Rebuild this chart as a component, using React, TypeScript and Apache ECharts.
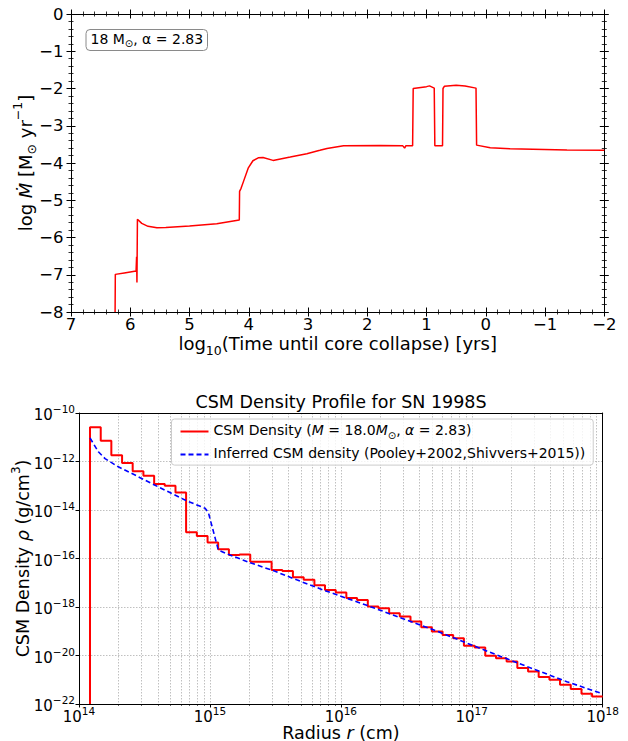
import React, { useEffect, useRef } from "react";
import * as echarts from "echarts";

const FONT = "DejaVu Sans";

// ---------- top panel: mass-loss history ----------
const mdotLogTime = [6.256, 6.252, 6.1, 5.902, 5.893, 5.887, 5.879, 5.806, 5.7, 5.55, 5.4, 5.0, 4.54, 4.16, 4.155, 4.13, 4.09, 4.01, 3.93, 3.84, 3.76, 3.59, 3.3, 3.02, 2.8, 2.68, 2.4, 1.78, 1.4, 1.37, 1.35, 1.235, 1.225, 1.0, 0.95, 0.87, 0.86, 0.73, 0.722, 0.7, 0.5, 0.35, 0.165, 0.155, -0.075, -0.41, -1.37, -2.0];
const mdotLogRate = [-8.0, -6.99, -6.95, -6.9, -6.52, -7.21, -5.51, -5.62, -5.7, -5.74, -5.73, -5.69, -5.63, -5.53, -4.76, -4.68, -4.5, -4.14, -3.94, -3.86, -3.85, -3.93, -3.84, -3.75, -3.66, -3.61, -3.54, -3.53, -3.54, -3.6, -3.54, -3.54, -2.0, -1.95, -1.93, -1.99, -3.54, -3.54, -2.0, -1.94, -1.91, -1.93, -1.99, -3.52, -3.59, -3.62, -3.65, -3.66];

// ---------- bottom panel: CSM density profile ----------
// bin edges (log10 radius, cm)
const csmEdgeLogR = [14.084, 14.166, 14.247, 14.329, 14.41, 14.492, 14.574, 14.655, 14.737, 14.818, 14.9, 14.982, 15.063, 15.145, 15.226, 15.308, 15.39, 15.471, 15.553, 15.634, 15.716, 15.798, 15.879, 15.961, 16.042, 16.124, 16.206, 16.287, 16.369, 16.45, 16.532, 16.614, 16.695, 16.777, 16.858, 16.94, 17.022, 17.103, 17.185, 17.266, 17.348, 17.43, 17.511, 17.593, 17.674, 17.756, 17.838, 17.919, 18.0];
// density in each bin (log10 g/cm^3)
const csmBinLogRho = [-10.59, -11.14, -11.74, -12.06, -12.4, -12.59, -12.93, -13.0, -13.28, -14.92, -15.07, -15.34, -15.62, -15.86, -15.83, -16.13, -16.13, -16.47, -16.52, -16.77, -16.88, -17.1, -17.3, -17.4, -17.63, -17.71, -17.98, -18.05, -18.26, -18.39, -18.6, -18.83, -19.01, -19.15, -19.29, -19.6, -19.67, -20.01, -20.11, -20.25, -20.52, -20.66, -20.89, -21.0, -21.21, -21.38, -21.58, -21.69];
// inferred profile (Pooley+2002, Shivvers+2015)
const inferredLogR = [14.084, 14.148, 14.199, 14.3, 14.428, 14.555, 14.683, 14.81, 14.963, 14.988, 15.064, 15.154, 15.306, 15.484, 15.663, 15.866, 16.198, 16.707, 17.216, 17.726, 18.0];
const inferredLogRho = [-11.03, -11.6, -11.88, -12.22, -12.56, -12.91, -13.25, -13.59, -13.93, -14.1, -15.65, -15.86, -16.17, -16.5, -16.88, -17.3, -17.93, -18.94, -20.03, -21.08, -21.58];

const radiusDecades = [14, 15, 16, 17];
const minorMultipliers = [2, 3, 4, 5, 6, 7, 8, 9];

const redName = "CSM Density (M = 18.0M⊙, α = 2.83)";
const blueName = "Inferred CSM density (Pooley+2002,Shivvers+2015))";

const minus = (v: number) => String(v).replace("-", "\u2212");

const black = { color: "#000", width: 1 };

function topX(position: string, inside: boolean, labels: boolean, named: boolean) {
  return {
    type: "value", gridIndex: 0, min: -2, max: 7, interval: 1, inverse: true, position,
    axisLine: { show: true, onZero: false, lineStyle: black },
    axisTick: { show: true, inside, length: 4.5, lineStyle: black },
    minorTick: { show: true, splitNumber: 5, length: 2.5, lineStyle: { color: "#000", width: 0.8 } },
    axisLabel: { show: labels, fontSize: 16.5, fontFamily: FONT, color: "#000", margin: 4, formatter: minus, showMinLabel: true, showMaxLabel: true },
    splitLine: { show: false },
    ...(named ? {
      name: "{t|log}{s|10}{t|(Time until core collapse) [yrs]}",
      nameLocation: "middle", nameGap: 22, nameMoveOverlap: false,
      nameTextStyle: {
        fontFamily: FONT, color: "#000", fontSize: 18,
        rich: {
          t: { fontFamily: FONT, fontSize: 18, color: "#000", verticalAlign: "top", padding: [0, 0, 5, 0] },
          s: { fontFamily: FONT, fontSize: 12.5, color: "#000", verticalAlign: "bottom" },
        },
      },
    } : {}),
  };
}

function topY(position: string, inside: boolean, labels: boolean, named: boolean) {
  return {
    type: "value", gridIndex: 0, min: -8, max: 0, interval: 1, position,
    axisLine: { show: true, onZero: false, lineStyle: black },
    axisTick: { show: true, inside, length: 4.5, lineStyle: black },
    minorTick: { show: true, splitNumber: 5, length: 2.5, lineStyle: { color: "#000", width: 0.8 } },
    axisLabel: { show: labels, fontSize: 16.5, fontFamily: FONT, color: "#000", margin: 7.5, formatter: minus, showMinLabel: true, showMaxLabel: true },
    splitLine: { show: false },
    ...(named ? {
      name: "{t|log }{i|Ṁ}{t| [M}{b|⊙}{t| yr}{p|−1}{t|]}",
      nameLocation: "middle", nameGap: 33, nameMoveOverlap: false,
      nameTextStyle: {
        fontFamily: FONT, color: "#000", fontSize: 18,
        rich: {
          t: { fontFamily: FONT, fontSize: 18, color: "#000", padding: [5, 0, 4, 0] },
          i: { fontFamily: FONT, fontSize: 18, fontStyle: "italic", color: "#000", padding: [5, 0, 4, 0] },
          b: { fontFamily: FONT, fontSize: 12.5, color: "#000", verticalAlign: "bottom" },
          p: { fontFamily: FONT, fontSize: 12.5, color: "#000", verticalAlign: "top" },
        },
      },
    } : {}),
  };
}

const powRich = {
  b: { fontFamily: FONT, fontSize: 15, color: "#000", padding: [4, 0, 0, 0], verticalAlign: "bottom" },
  s: { fontFamily: FONT, fontSize: 10.5, color: "#000", verticalAlign: "top" },
};
const powFmt = (v: number) => `{b|10}{s|${minus(v)}}`;

const gridLine = { show: true, lineStyle: { color: "#b0b0b0", width: 0.8, type: [1.5, 1.5] } };

export default function App() {
  const ref = useRef<HTMLDivElement>(null);

  useEffect(() => {
    document.body.style.margin = "0";
    const chart = echarts.init(ref.current!, null, { renderer: "svg" });

    const topData = mdotLogTime.map((t, i) => [t, mdotLogRate[i]]);

    const redData: number[][] = [[csmEdgeLogR[0], -22]];
    csmEdgeLogR.forEach((e, i) => {
      const v = i < csmBinLogRho.length ? csmBinLogRho[i] : csmBinLogRho[csmBinLogRho.length - 1];
      redData.push([e, v]);
    });
    const blueData = inferredLogR.map((r, i) => [r, inferredLogRho[i]]);

    const minorTicks: number[] = [];
    radiusDecades.forEach((d) => minorMultipliers.forEach((m) => minorTicks.push(d + Math.log10(m))));

    const option: any = {
      animation: false,
      backgroundColor: "#fff",
      textStyle: { fontFamily: FONT },
      grid: [
        { left: 71, top: 14, width: 533.3, height: 298, outerBoundsMode: "none", containLabel: false },
        { left: 79, top: 413, width: 523.7, height: 291, outerBoundsMode: "none", containLabel: false },
      ],
      xAxis: [
        topX("bottom", false, true, true),
        topX("bottom", true, false, false),
        topX("top", false, false, false),
        topX("top", true, false, false),
        {
          type: "value", gridIndex: 1, min: 14, max: 18, interval: 1, position: "bottom",
          axisLine: { show: true, onZero: false, lineStyle: black },
          axisTick: { show: true, length: 3.5, lineStyle: black },
          axisLabel: { show: true, margin: 1, formatter: powFmt, rich: powRich, showMinLabel: true, showMaxLabel: true },
          splitLine: gridLine,
          name: "{t|Radius }{i|r}{t| (cm)}",
          nameLocation: "middle", nameGap: 21, nameMoveOverlap: false,
          nameTextStyle: {
            fontFamily: FONT, fontSize: 17.5, lineHeight: 16, color: "#000",
            rich: {
              t: { fontFamily: FONT, fontSize: 17.5, lineHeight: 16, color: "#000" },
              i: { fontFamily: FONT, fontSize: 17.5, lineHeight: 16, fontStyle: "italic", color: "#000" },
            },
          },
        },
        {
          type: "value", gridIndex: 1, min: 14, max: 18, position: "bottom",
          axisLine: { show: false, onZero: false },
          axisTick: { show: true, length: 2, customValues: minorTicks, lineStyle: { color: "#000", width: 0.6 } },
          axisLabel: { show: false },
          splitLine: gridLine,
        },
        {
          type: "value", gridIndex: 1, min: 14, max: 18, position: "top",
          axisLine: { show: true, onZero: false, lineStyle: black },
          axisTick: { show: false }, axisLabel: { show: false }, splitLine: { show: false },
        },
      ],
      yAxis: [
        topY("left", false, true, true),
        topY("left", true, false, false),
        topY("right", false, false, false),
        topY("right", true, false, false),
        {
          type: "value", gridIndex: 1, min: -22, max: -10, interval: 2, position: "left",
          axisLine: { show: true, onZero: false, lineStyle: black },
          axisTick: { show: true, length: 3.5, lineStyle: black },
          axisLabel: { show: true, margin: 4, formatter: powFmt, rich: powRich, showMinLabel: true, showMaxLabel: true },
          splitLine: gridLine,
          name: "{t|CSM Density }{i|ρ}{t| (g/cm}{p|3}{t|)}",
          nameLocation: "middle", nameGap: 47, nameMoveOverlap: false,
          nameTextStyle: {
            fontFamily: FONT, fontSize: 17.5, color: "#000",
            rich: {
              t: { fontFamily: FONT, fontSize: 17.5, color: "#000", padding: [4, 0, 0, 0], verticalAlign: "bottom" },
              i: { fontFamily: FONT, fontSize: 17.5, fontStyle: "italic", color: "#000", padding: [4, 0, 0, 0], verticalAlign: "bottom" },
              p: { fontFamily: FONT, fontSize: 12, color: "#000", verticalAlign: "top" },
            },
          },
        },
        {
          type: "value", gridIndex: 1, min: -22, max: -10, position: "right",
          axisLine: { show: true, onZero: false, lineStyle: black },
          axisTick: { show: false }, axisLabel: { show: false }, splitLine: { show: false },
        },
      ],
      legend: {
        data: [redName, blueName],
        orient: "vertical",
        left: 171.5, top: 419,
        itemWidth: 28, itemHeight: 14, itemGap: 6,
        padding: [4, 8, 5, 8],
        backgroundColor: "rgba(255,255,255,0.8)",
        borderColor: "#cccccc", borderWidth: 1, borderRadius: 3,
        itemStyle: { opacity: 0 },
        textStyle: {
          fontFamily: FONT, fontSize: 14, color: "#000",
          rich: {
            t: { fontFamily: FONT, fontSize: 14, color: "#000", verticalAlign: "top", padding: [0, 0, 3, 0] },
            i: { fontFamily: FONT, fontSize: 14, fontStyle: "italic", color: "#000", verticalAlign: "top", padding: [0, 0, 3, 0] },
            s: { fontFamily: FONT, fontSize: 10, color: "#000", verticalAlign: "bottom" },
          },
        },
        formatter: (name: string) =>
          name === redName
            ? "{t|CSM Density (}{i|M}{t| = 18.0}{i|M}{s|⊙}{t|, }{i|α}{t| = 2.83)}"
            : `{t|${name}}`,
      },
      graphic: [
        {
          type: "rect", z: 100,
          shape: { x: 86, y: 29.5, width: 121.5, height: 21, r: 4 },
          style: { fill: "#fff", stroke: "#8a8a8a", lineWidth: 1 },
        },
        {
          type: "text", z: 101, x: 90.5, y: 40,
          style: {
            text: "{t|18 M}{s|⊙}{t|, α = 2.83}",
            verticalAlign: "middle", align: "left",
            fontFamily: FONT, fontSize: 14, fill: "#000",
            rich: {
              t: { fontFamily: FONT, fontSize: 14, fill: "#000", verticalAlign: "top", padding: [0, 0, 3, 0] },
              s: { fontFamily: FONT, fontSize: 10, fill: "#000", verticalAlign: "bottom" },
            },
          },
        },
        {
          type: "text", x: 341, y: 402,
          style: {
            text: "CSM Density Profile for SN 1998S",
            align: "center", verticalAlign: "middle",
            fontFamily: FONT, fontSize: 17.5, fill: "#000",
          },
        },
      ],
      series: [
        {
          name: "Mdot", type: "line", xAxisIndex: 0, yAxisIndex: 0,
          data: topData, symbol: "none", showSymbol: false, clip: true,
          lineStyle: { color: "#ff0000", width: 1.5 },
          itemStyle: { color: "#ff0000" },
        },
        {
          name: redName, type: "line", xAxisIndex: 4, yAxisIndex: 4,
          data: redData, step: "end", symbol: "none", showSymbol: false, clip: true,
          lineStyle: { color: "#ff0000", width: 2 },
          itemStyle: { color: "#ff0000" },
          z: 3,
        },
        {
          name: blueName, type: "line", xAxisIndex: 4, yAxisIndex: 4,
          data: blueData, symbol: "none", showSymbol: false, clip: true,
          lineStyle: { color: "#0000ff", width: 1.6, type: [5, 3] },
          itemStyle: { color: "#0000ff" },
          z: 4,
        },
      ],
    };

    chart.setOption(option);
    return () => chart.dispose();
  }, []);

  return <div ref={ref} style={{ width: 628, height: 741 }} />;
}
